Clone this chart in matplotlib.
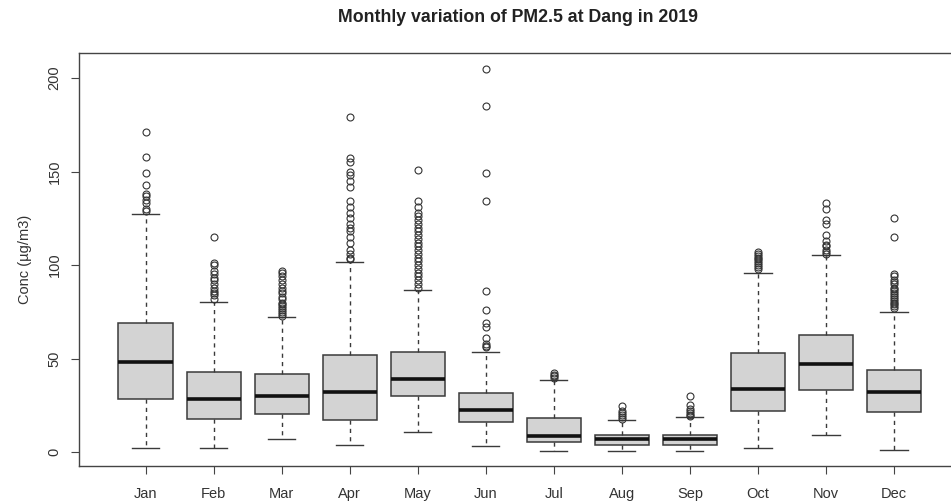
import numpy as np
import matplotlib
matplotlib.use('Agg')
import matplotlib.pyplot as plt

plt.rcParams['font.family'] = ['Liberation Sans', 'DejaVu Sans']

months = ['Jan', 'Feb', 'Mar', 'Apr', 'May', 'Jun', 'Jul', 'Aug', 'Sep', 'Oct', 'Nov', 'Dec']

# five-number summaries (whisker low, Q1, median, Q3, whisker high)
whis_lo = [2.0, 2.0, 6.8, 4.1, 10.7, 3.2, 0.9, 0.9, 0.9, 2.0, 9.4, 1.1]
q1      = [28.7, 17.8, 20.2, 17.1, 30.0, 16.1, 5.4, 4.1, 4.1, 21.9, 33.0, 21.6]
med     = [48.3, 28.7, 30.0, 32.1, 39.2, 22.5, 8.6, 6.8, 6.8, 33.9, 47.3, 32.3]
q3      = [68.9, 43.0, 41.9, 51.9, 53.7, 31.4, 18.4, 9.4, 9.4, 52.8, 62.6, 43.9]
whis_hi = [127.2, 80.3, 72.3, 101.9, 86.7, 53.7, 38.7, 17.1, 18.9, 95.6, 105.2, 75.1]

out_jan = [171, 158, 149, 143, 138, 137, 135, 133, 130, 129]
out_feb = [115, 101, 100, 97, 95, 93, 92, 90, 88, 86, 85, 84, 82]
out_mar = [97, 96, 94, 92, 90, 88, 86, 85, 83, 82, 80, 79, 78, 77, 76, 75, 74, 73]
out_apr = [179, 157, 155, 150, 148, 145, 142, 134, 131, 128, 125, 122, 120, 118, 115,
           112, 108, 106, 104, 103]
out_may = [151, 134, 131, 128, 126, 124, 122, 120, 118, 116, 114, 112, 110, 108, 106,
           104, 102, 100, 98, 96, 94, 92, 90, 88]
out_jun = [205, 185, 149, 134, 86, 76, 69, 67, 61, 58, 57, 56]
out_jul = [42.4, 41.5, 40.6, 39.8]
out_aug = [24.5, 22, 21, 20, 19, 18]
out_sep = [30, 25, 23, 22, 21, 20, 19.5]
out_oct = [107, 106, 105, 104, 103, 102, 101, 100, 99, 98]
out_nov = [133, 130, 124, 122, 116, 113, 111, 110, 108, 107, 106]
out_dec = [125, 115, 95, 94, 92, 91, 90, 88, 87, 86, 85, 84, 83, 82, 81, 80, 79, 78, 77]

outliers = [out_jan, out_feb, out_mar, out_apr, out_may, out_jun,
            out_jul, out_aug, out_sep, out_oct, out_nov, out_dec]

stats = []
for i in range(len(months)):
    stats.append(dict(whislo=whis_lo[i], q1=q1[i], med=med[i], q3=q3[i],
                      whishi=whis_hi[i], fliers=outliers[i], label=months[i]))

fig = plt.figure(figsize=(9.51, 5.01), dpi=100)
ax = fig.add_axes([0.0831, 0.0705, 0.927, 0.8231])

lc = '#3a3a3a'
ax.bxp(stats, positions=range(1, 13), widths=0.8, patch_artist=True,
       boxprops=dict(facecolor='#d3d3d3', edgecolor=lc, linewidth=1.1),
       medianprops=dict(color='#111111', linewidth=2.6),
       whiskerprops=dict(color=lc, linewidth=1.0, linestyle=(0, (3, 3))),
       capprops=dict(color=lc, linewidth=1.0),
       capwidths=0.4,
       flierprops=dict(marker='o', markerfacecolor='none', markeredgecolor='#333333',
                       markersize=5, markeredgewidth=0.8))

ax.set_xlim(0.02, 12.98)
ax.set_ylim(-7.2, 213.2)
ax.set_yticks([0, 50, 100, 150, 200])
ax.set_yticklabels(['0', '50', '100', '150', '200'], rotation=90, va='center')
ax.set_xticks(range(1, 13))
ax.set_xticklabels(months)
ax.tick_params(axis='both', colors='#444444', labelcolor='#333333', labelsize=10.5,
               length=6, width=0.8, direction='out')
ax.tick_params(axis='y', pad=6.5)
ax.tick_params(axis='x', pad=9)
for s in ax.spines.values():
    s.set_color('#444444')
    s.set_linewidth(1.0)

ax.set_ylabel('Conc (µg/m3)', fontsize=10.5, color='#333333', labelpad=11)
fig.text(0.545, 0.966, 'Monthly variation of PM2.5 at Dang in 2019',
         ha='center', va='center', fontsize=12.8, fontweight='bold', color='#222222')

fig.savefig('out.png', dpi=100)
